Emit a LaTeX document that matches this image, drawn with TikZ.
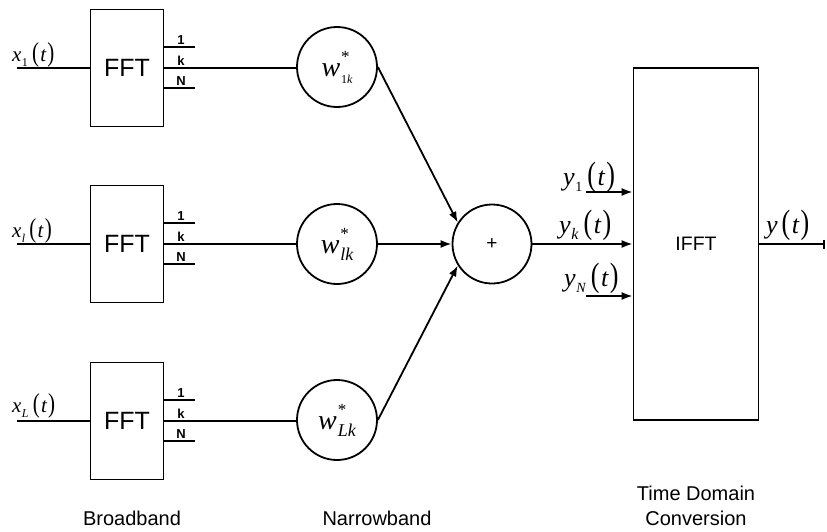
\documentclass[tikz,border=0pt]{standalone}
\usepackage{fontspec}
\setmainfont{Liberation Sans}
\newfontfamily\tms{Liberation Serif}
\usetikzlibrary{arrows.meta}
\newcommand{\fs}[1]{\fontsize{#1}{#1}\selectfont}
% signal label: size, letter, subscript size, subscript
\newcommand{\sigl}[4]{{\tms\fs{#1}\itshape #2\kern0.02em\raisebox{-0.25em}{\fs{#3}#4}\kern0.2em\upshape\scalebox{1}[1.3]{(}\kern0.06em\itshape t\kern0.06em\upshape\scalebox{1}[1.3]{)}}}
\newcommand{\wl}[2]{{\tms\fs{28}\itshape w\kern0.03em\rlap{\raisebox{0.5em}{\fs{17}\upshape *}}\raisebox{-0.25em}{\fs{#2}#1}}}
\begin{document}
\begin{tikzpicture}[x=1pt,y=-1pt,
  line/.style={line width=1.8pt},
  arr/.style={line width=1.8pt,-{Latex[length=11pt,width=8pt]}},
  fftbox/.style={draw,line width=1.8pt,minimum width=73pt,minimum height=117pt,inner sep=0pt,font=\fs{25}},
  wcirc/.style={draw,circle,line width=1.8pt,minimum size=80pt,inner sep=0pt},
  tick/.style={font=\bfseries\fs{13},anchor=base,inner sep=0pt},
  captext/.style={font=\fs{20},inner sep=0pt,anchor=base}]
\useasboundingbox (0,0) rectangle (827,531);
% FFT boxes
\node[fftbox] (f1) at (127,68) {FFT};
\node[fftbox] (f2) at (127,244) {FFT};
\node[fftbox] (f3) at (127,421) {FFT};
% inputs
\coordinate (i1) at (17,68);
\coordinate (i2) at (17,244);
\coordinate (i3) at (17,421);
\draw[line] (i1) -- (f1.west);
\draw[line] (i2) -- (f2.west);
\draw[line] (i3) -- (f3.west);
\node[anchor=base west,inner sep=0pt] (lx1) at (12,61) {\sigl{21}{x}{12}{\upshape 1}};
\node[anchor=base west,inner sep=0pt] (lx2) at (12,237) {\sigl{21}{x}{12}{l}};
\node[anchor=base west,inner sep=0pt] (lx3) at (12,412) {\sigl{21}{x}{12}{L}};
% weight circles
\node[wcirc] (w1) at (337,67) {\wl{\upshape 1\itshape k}{12}};
\node[wcirc] (w2) at (337,244) {\wl{lk}{18}};
\node[wcirc] (w3) at (337,420) {\wl{Lk}{18}};
% ticks
\foreach \n/\r in {1/68,2/244,3/421}{
  \coordinate (a\n) at (195,\r-21);
  \coordinate (c\n) at (195,\r+20);
  \draw[line] (a\n -| f\n.east) -- (a\n);
  \draw[line] (c\n -| f\n.east) -- (c\n);
  \node[tick] (t1\n) at (181,\r-24) {1};
  \node[tick] (tk\n) at (181,\r-3) {k};
  \node[tick] (tn\n) at (181,\r+17) {N};
}
\draw[line] (f1.east) -- (w1.west |- f1.east);
\draw[line] (f2.east) -- (w2.west);
\draw[line] (f3.east) -- (w3.west |- f3.east);
% sum
\node[wcirc,minimum size=79pt,font=\fs{19}] (sum) at (492,244) {+};
\draw[arr] (w1.east) -- (sum.148);
\draw[arr] (w2.east) -- (sum.west);
\draw[arr] (w3.east) -- (sum.212);
% IFFT
\node[draw,line width=1.8pt,minimum width=125pt,minimum height=352pt,inner sep=0pt] (ifft) at (696,244) {};
\node[font=\fs{19.5},inner sep=0pt] (ifftt) at (696,244) {IFFT};
\coordinate (y1s) at (586,192);
\coordinate (yns) at (586,296);
\draw[arr] (y1s) -- (y1s -| ifft.west);
\draw[arr] (sum.east) -- (sum.east -| ifft.west);
\draw[arr] (yns) -- (yns -| ifft.west);
\node[anchor=base west,inner sep=0pt] (ly1) at (563,185) {\sigl{26}{y}{14}{\upshape 1}};
\node[anchor=base west,inner sep=0pt] (lyk) at (559,233) {\sigl{26}{y}{16}{k}};
\node[anchor=base west,inner sep=0pt] (lyn) at (564,286) {\sigl{26}{y}{14}{N}};
\coordinate (out) at (825,244);
\draw[line,-{Bar[width=9pt]}] (ifft.east |- sum) -- (out);
\node[anchor=base west,inner sep=0pt] (ly) at (766,233) {{\tms\fs{26}\itshape y\kern0.15em\upshape\scalebox{1}[1.3]{(}\kern0.06em\itshape t\kern0.06em\upshape\scalebox{1}[1.3]{)}}};
% captions
\node[captext] (cb) at (132,525) {Broadband};
\node[captext] (cn) at (377,525) {Narrowband};
\node[captext] (ct) at (696,500) {Time Domain};
\node[captext] (cc) at (696,525) {Conversion};
\end{tikzpicture}
\end{document}
